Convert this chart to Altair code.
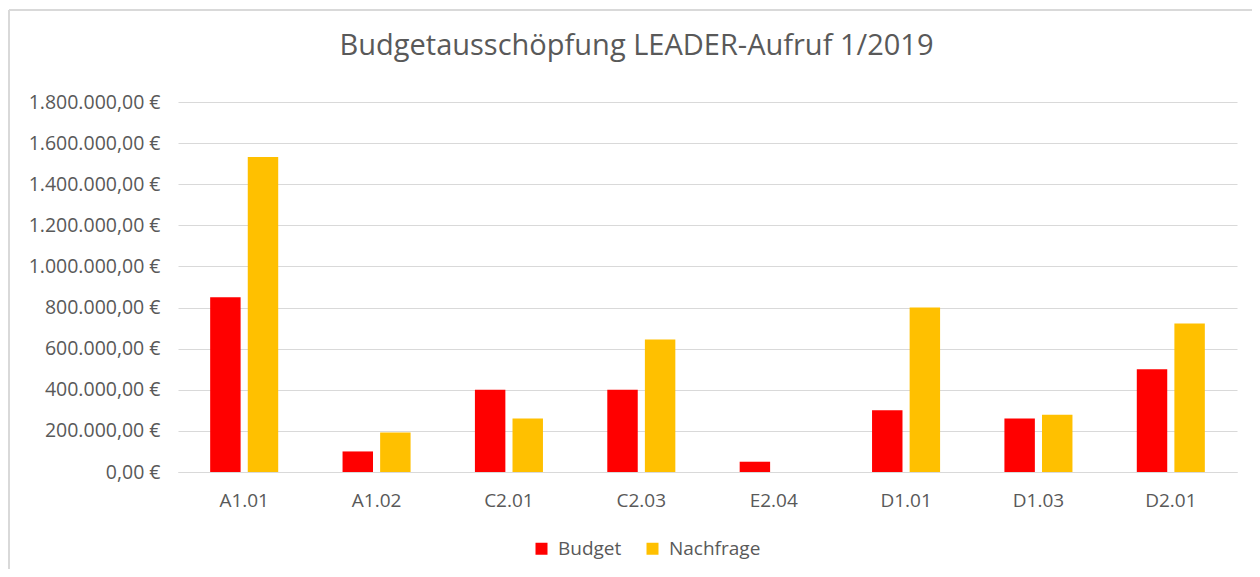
import altair as alt
import pandas as pd

categories = ["A1.01", "A1.02", "C2.01", "C2.03", "E2.04", "D1.01", "D1.03", "D2.01"]
budget = [850000, 100000, 400000, 400000, 50000, 300000, 260000, 500000]
nachfrage = [1532000, 192000, 260000, 645000, 0, 800000, 278000, 722000]
series = ["Budget", "Nachfrage"]
colors = ["#FF0000", "#FFC000"]
y_ticks = [0, 200000, 400000, 600000, 800000, 1000000, 1200000, 1400000, 1600000, 1800000]

rows = []
for c, b, n in zip(categories, budget, nachfrage):
    rows.append({"Kategorie": c, "Reihe": "Budget", "Wert": b})
    rows.append({"Kategorie": c, "Reihe": "Nachfrage", "Wert": n})
df = pd.DataFrame(rows)

TXT = "#595959"
GRID = "#D9D9D9"
FONT = "Open Sans"

bars = alt.Chart(df).mark_bar().encode(
    x=alt.X(
        "Kategorie:N",
        sort=categories,
        scale=alt.Scale(paddingInner=0.486, paddingOuter=0.243),
        axis=alt.Axis(
            title=None, labelAngle=0, labelFontSize=19, labelColor=TXT,
            labelPadding=19, ticks=False, domainColor=GRID, domainWidth=1,
            grid=False, labelFont=FONT,
        ),
    ),
    xOffset=alt.XOffset("Reihe:N", sort=series, scale=alt.Scale(paddingInner=0.19)),
    y=alt.Y(
        "Wert:Q",
        scale=alt.Scale(domain=[0, 1800000], nice=False),
        axis=alt.Axis(
            title=None, values=y_ticks, labelExpr="format(datum.value, ',.2f') + ' €'",
            labelFontSize=19.5, labelColor=TXT, labelPadding=18, ticks=False,
            domain=False, gridColor=GRID, gridWidth=1, labelFont=FONT,
        ),
    ),
    color=alt.Color(
        "Reihe:N",
        sort=series,
        scale=alt.Scale(domain=series, range=colors),
        legend=alt.Legend(
            title=None, orient="none", legendX=354, legendY=437,
            direction="horizontal", symbolType="square", symbolSize=144,
            symbolStrokeWidth=0, labelFontSize=19, labelColor=TXT,
            columnPadding=21, labelOffset=7, labelFont=FONT,
        ),
    ),
)

frame_top = alt.Chart(alt.Data(values=[{}])).mark_rule(color=GRID, strokeWidth=2).encode(
    x=alt.value(-169), x2=alt.value(1100), y=alt.value(-92)
)
frame_left = alt.Chart(alt.Data(values=[{}])).mark_rule(color=GRID, strokeWidth=2).encode(
    x=alt.value(-169), y=alt.value(-92), y2=alt.value(480)
)

chart = alt.layer(bars, frame_top, frame_left).properties(
    width=1059,
    height=370,
    autosize="none",
    padding={"left": 170, "top": 94, "right": 15, "bottom": 97},
    title=alt.TitleParams(
        "Budgetausschöpfung LEADER-Aufruf 1/2019",
        fontSize=29, font=FONT, fontWeight="normal", color=TXT,
        anchor="middle", dx=-71, offset=-81, baseline="bottom",
    ),
).configure(
    locale=alt.Locale(number=alt.NumberLocale(decimal=",", thousands=".", grouping=[3], currency=["", " €"])),
    font=FONT,
).configure_view(stroke=None)

chart.save("out.html", embed_options={"renderer": "svg", "actions": False})
